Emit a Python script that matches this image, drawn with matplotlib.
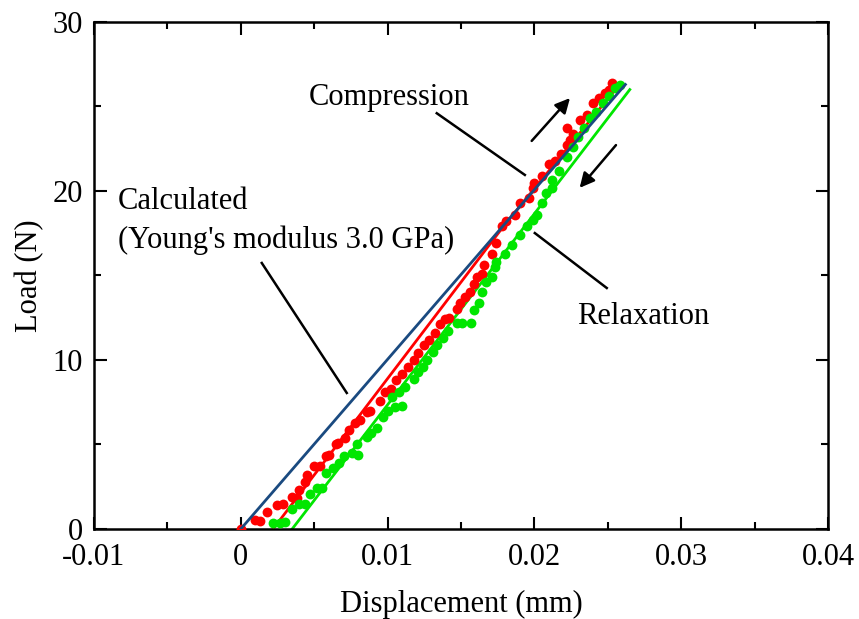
import matplotlib.pyplot as plt
from matplotlib.ticker import MultipleLocator

# compression data (red points)
comp_x = [0.0, 0.00095, 0.0013, 0.0018, 0.0025, 0.0029, 0.0035, 0.0038, 0.0040, 0.0044,
          0.0045, 0.0050, 0.0054, 0.0058, 0.0060, 0.0065, 0.0066, 0.0071, 0.0074, 0.0078,
          0.0081, 0.0086, 0.0088, 0.0095, 0.0098, 0.0102, 0.0106, 0.0110, 0.0114, 0.0118,
          0.0121, 0.0125, 0.0128, 0.0132, 0.0136, 0.0139, 0.0142, 0.0147, 0.0149, 0.0153,
          0.0156, 0.0159, 0.0161, 0.0164, 0.0166, 0.0171, 0.0174, 0.0178, 0.0181, 0.0187,
          0.0190, 0.0196, 0.0199, 0.0200, 0.0205, 0.0210, 0.0214, 0.0218, 0.0222, 0.0224,
          0.0226, 0.0222, 0.0231, 0.0236, 0.0240, 0.0244, 0.0248, 0.0251, 0.0253]
comp_y = [0.0, 0.53, 0.45, 1.0, 1.42, 1.5, 1.9, 1.83, 2.3, 2.8,
          3.2, 3.7, 3.75, 4.3, 4.4, 5.0, 5.1, 5.4, 5.86, 6.3,
          6.45, 6.9, 7.0, 7.6, 8.1, 8.3, 8.8, 9.2, 9.6, 10.0,
          10.4, 10.9, 11.2, 11.6, 12.1, 12.4, 12.5, 13.0, 13.4, 13.7,
          14.0, 14.5, 14.9, 15.1, 15.6, 16.3, 16.9, 17.9, 18.2, 18.6,
          19.3, 19.6, 20.2, 20.5, 20.9, 21.6, 21.8, 22.2, 22.7, 23.0,
          23.4, 23.7, 24.2, 24.5, 25.2, 25.5, 25.8, 26.0, 26.4]

# relaxation data (green points)
rel_x = [0.0022, 0.0027, 0.0030, 0.0035, 0.0040, 0.0044, 0.0047, 0.0052, 0.0055, 0.0058,
         0.0063, 0.0067, 0.0070, 0.0076, 0.0080, 0.0079, 0.0086, 0.0089, 0.0093, 0.0097,
         0.0100, 0.0105, 0.0110, 0.0103, 0.0108, 0.0112, 0.0118, 0.0121, 0.0124, 0.0127,
         0.0131, 0.0134, 0.0138, 0.0141, 0.0147, 0.0151, 0.0157, 0.0159, 0.0162, 0.0164,
         0.0167, 0.0171, 0.0173, 0.0174, 0.0180, 0.0185, 0.0190, 0.0195, 0.0199, 0.0202,
         0.0205, 0.0208, 0.0212, 0.0212, 0.0217, 0.0222, 0.0226, 0.0230, 0.0234, 0.0238,
         0.0242, 0.0247, 0.0251, 0.0255, 0.0258]
rel_y = [0.35, 0.35, 0.4, 1.2, 1.5, 1.5, 2.1, 2.4, 2.4, 3.3,
         3.6, 3.9, 4.3, 4.5, 4.4, 5.0, 5.45, 5.7, 6.0, 6.6,
         7.0, 7.2, 7.3, 7.8, 8.1, 8.4, 8.9, 9.3, 9.6, 10.0,
         10.5, 10.9, 11.3, 11.7, 12.2, 12.2, 12.2, 12.95, 13.4, 14.0,
         14.6, 14.9, 15.5, 15.8, 16.3, 16.8, 17.4, 17.9, 18.3, 18.6,
         19.3, 19.9, 20.2, 20.65, 21.2, 22.0, 22.6, 23.2, 23.7, 24.3,
         24.7, 25.2, 25.6, 26.1, 26.3]

# fitted / calculated lines
comp_fit_x = [0.0022, 0.0178, 0.0257]
comp_fit_y = [0.0, 17.8, 26.2]
rel_fit_x = [0.0035, 0.0265]
rel_fit_y = [0.0, 26.0]
calc_x = [0.0, 0.0262]
calc_y = [0.0, 26.3]

plt.rcParams['font.family'] = ['Liberation Serif', 'DejaVu Serif']

fig = plt.figure(figsize=(8.59, 6.19), dpi=100)
ax = fig.add_axes([0.1094, 0.1454, 0.8545, 0.8191])

red = '#ff0000'
green = '#00e600'
navy = '#1a4a80'

ax.scatter(comp_x, comp_y, s=50, color=red, linewidths=0, zorder=3)
ax.plot(comp_fit_x, comp_fit_y, color=red, lw=2, zorder=2)
ax.scatter(rel_x, rel_y, s=50, color=green, linewidths=0, zorder=3)
ax.plot(rel_fit_x, rel_fit_y, color=green, lw=2, zorder=2)
ax.plot(calc_x, calc_y, color=navy, lw=2, zorder=4)

ax.set_xlim(-0.01, 0.04)
ax.set_ylim(0, 30)
ax.xaxis.set_major_locator(MultipleLocator(0.01))
ax.xaxis.set_minor_locator(MultipleLocator(0.005))
ax.yaxis.set_major_locator(MultipleLocator(10))
ax.yaxis.set_minor_locator(MultipleLocator(5))
ax.set_xticks([-0.01, 0, 0.01, 0.02, 0.03, 0.04])
ax.set_xticklabels(['-0.01', '0', '0.01', '0.02', '0.03', '0.04'])
ax.tick_params(which='both', direction='in', top=True, right=True, labelsize=22, width=1.5)
ax.tick_params(which='major', length=9)
ax.tick_params(axis='x', which='major', pad=10)
ax.tick_params(axis='y', which='major', pad=8)
ax.tick_params(which='minor', length=5)
for s in ax.spines.values():
    s.set_linewidth(1.8)

ax.set_xlabel('Displacement (mm)', fontsize=22, labelpad=13)
ax.set_ylabel('Load (N)', fontsize=22, labelpad=6)

# annotations
ax.text(0.01008, 25.55, 'Compression', fontsize=22, ha='center', va='center')
ax.plot([0.01335, 0.01935], [24.6, 20.95], color='black', lw=1.8)
ax.annotate('', xy=(0.02255, 25.62), xytext=(0.01969, 22.84),
            arrowprops=dict(arrowstyle='-|>', color='black', lw=1.8, mutation_scale=22))
ax.annotate('', xy=(0.02296, 20.06), xytext=(0.02568, 22.84),
            arrowprops=dict(arrowstyle='-|>', color='black', lw=1.8, mutation_scale=22))

ax.text(-0.00838, 19.4, 'Calculated', fontsize=22, ha='left', va='center')
ax.text(-0.00838, 17.1, "(Young's modulus 3.0 GPa)", fontsize=22, ha='left', va='center')
ax.plot([0.00143, 0.00722], [15.74, 8.05], color='black', lw=1.8)

ax.text(0.02738, 12.6, 'Relaxation', fontsize=22, ha='center', va='center')
ax.plot([0.02003, 0.02493], [17.51, 14.26], color='black', lw=1.8)

fig.savefig('out.png', dpi=100)
